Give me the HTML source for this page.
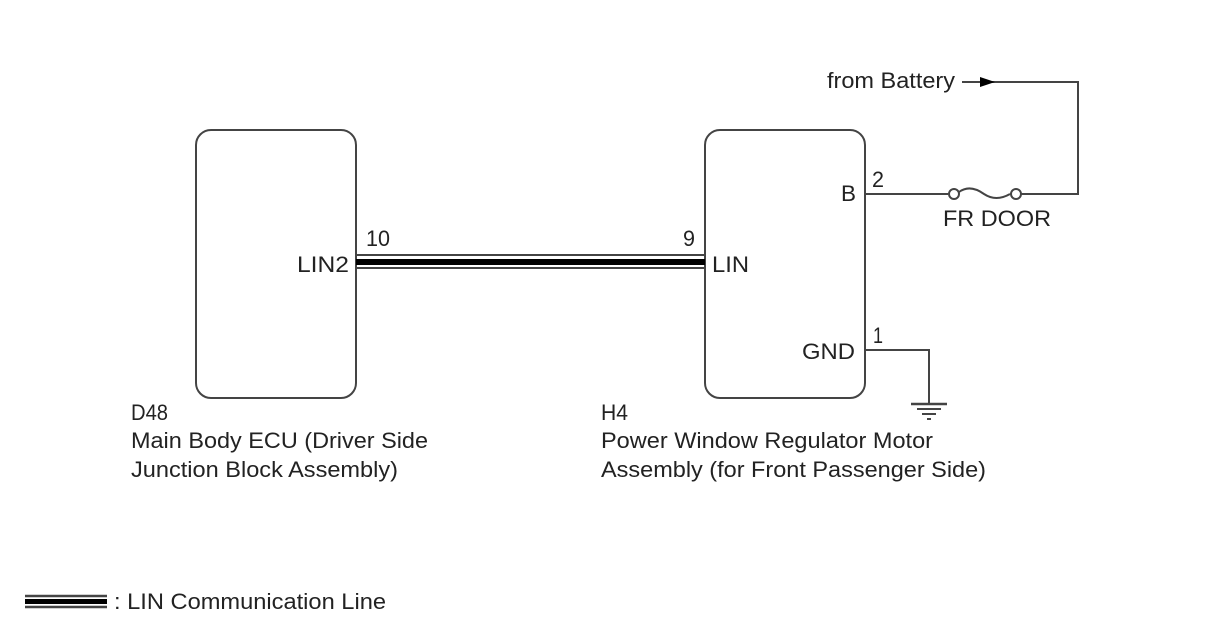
<!DOCTYPE html>
<html><head><meta charset="utf-8"><style>html,body{margin:0;padding:0;background:#fff}svg{display:block}</style></head>
<body>
<svg width="1208" height="644" viewBox="0 0 1208 644" xmlns="http://www.w3.org/2000/svg" font-family="Liberation Sans, sans-serif" fill="#222">
<g fill="none" stroke="#444" stroke-width="2">
<rect x="196" y="130" width="160" height="268" rx="15"/>
<rect x="705" y="130" width="160" height="268" rx="15"/>
<line x1="356" y1="255" x2="705" y2="255"/>
<line x1="356" y1="268" x2="705" y2="268"/>
<line x1="865" y1="194" x2="948" y2="194"/>
<circle cx="954" cy="194" r="5"/>
<path d="M959 192 Q970 184 984 194 Q996 202 1010 194"/>
<circle cx="1016" cy="194" r="5"/>
<polyline points="1021,194 1078,194 1078,82 962,82"/>
<polyline points="865,350 929,350 929,404"/>
<line x1="911" y1="404" x2="947" y2="404" stroke-width="2.5"/>
<line x1="917" y1="409" x2="941" y2="409"/>
<line x1="922" y1="414" x2="936" y2="414"/>
<line x1="927" y1="419" x2="931" y2="419"/>
<line x1="25" y1="596" x2="107" y2="596" stroke-width="2.5"/>
<line x1="25" y1="607" x2="107" y2="607" stroke-width="2.5"/>
</g>
<rect x="356" y="259" width="349" height="6" fill="#000"/>
<rect x="25" y="599" width="82" height="5" fill="#000"/>
<polygon points="980,77 995,82 980,87" fill="#000"/>
<g font-size="22">
<text x="827" y="88" textLength="128" lengthAdjust="spacingAndGlyphs">from Battery</text>
<text x="872" y="187" textLength="12" lengthAdjust="spacingAndGlyphs">2</text>
<text x="841" y="201" textLength="15" lengthAdjust="spacingAndGlyphs">B</text>
<text x="943" y="226" textLength="108" lengthAdjust="spacingAndGlyphs">FR DOOR</text>
<text x="366" y="246" textLength="24" lengthAdjust="spacingAndGlyphs">10</text>
<text x="683" y="246" textLength="12" lengthAdjust="spacingAndGlyphs">9</text>
<text x="297" y="272" textLength="52" lengthAdjust="spacingAndGlyphs">LIN2</text>
<text x="712" y="272" textLength="37" lengthAdjust="spacingAndGlyphs">LIN</text>
<text x="873" y="343" textLength="10" lengthAdjust="spacingAndGlyphs">1</text>
<text x="802" y="359" textLength="53" lengthAdjust="spacingAndGlyphs">GND</text>
<text x="131" y="420" textLength="37" lengthAdjust="spacingAndGlyphs">D48</text>
<text x="131" y="448" textLength="297" lengthAdjust="spacingAndGlyphs">Main Body ECU (Driver Side</text>
<text x="131" y="477" textLength="267" lengthAdjust="spacingAndGlyphs">Junction Block Assembly)</text>
<text x="601" y="420" textLength="27" lengthAdjust="spacingAndGlyphs">H4</text>
<text x="601" y="448" textLength="332" lengthAdjust="spacingAndGlyphs">Power Window Regulator Motor</text>
<text x="601" y="477" textLength="385" lengthAdjust="spacingAndGlyphs">Assembly (for Front Passenger Side)</text>
<text x="114" y="609" textLength="272" lengthAdjust="spacingAndGlyphs">: LIN Communication Line</text>
</g>
</svg>
</body></html>
